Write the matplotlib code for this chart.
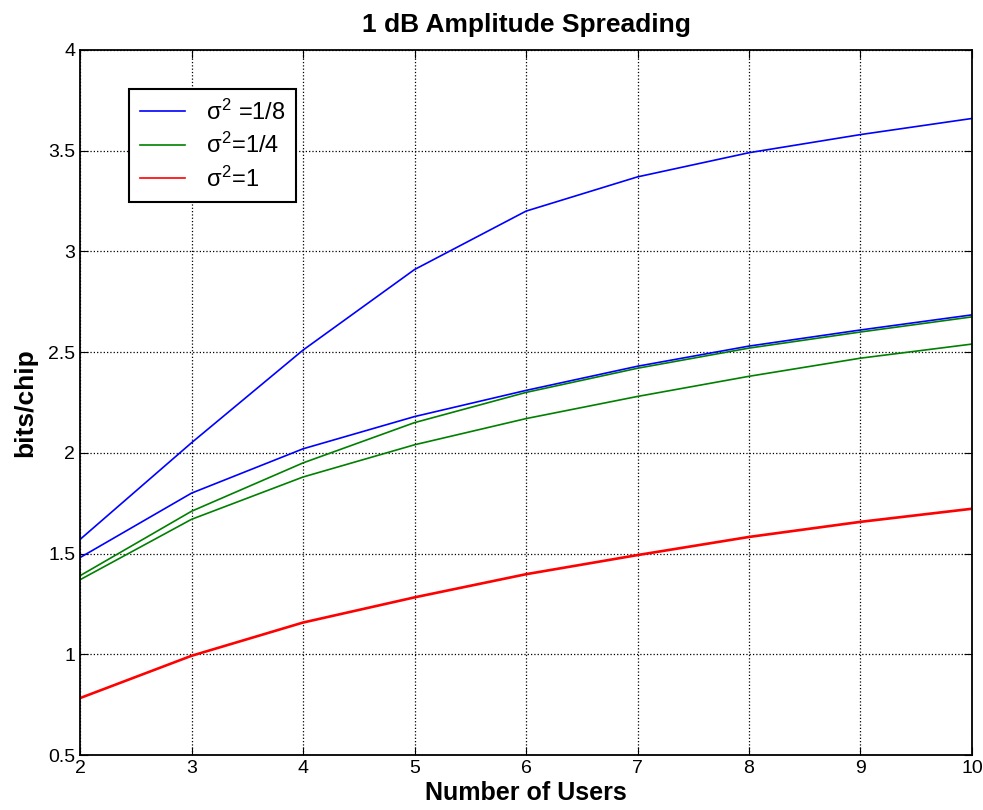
import numpy as np
import matplotlib
matplotlib.use('Agg')
import matplotlib.pyplot as plt

plt.rcParams['font.family'] = ['Liberation Sans', 'DejaVu Sans']
plt.rcParams['mathtext.fontset'] = 'custom'
plt.rcParams['mathtext.rm'] = 'Liberation Sans'
plt.rcParams['mathtext.it'] = 'Liberation Sans'

users = [2, 3, 4, 5, 6, 7, 8, 9, 10]

blue_hi = [1.57, 2.05, 2.51, 2.91, 3.20, 3.37, 3.49, 3.58, 3.66]
blue_lo = [1.48, 1.80, 2.02, 2.18, 2.31, 2.43, 2.53, 2.61, 2.685]
green_hi = [1.39, 1.71, 1.95, 2.15, 2.30, 2.42, 2.52, 2.60, 2.675]
green_lo = [1.37, 1.67, 1.88, 2.04, 2.17, 2.28, 2.38, 2.47, 2.54]
red_hi = [0.785, 0.995, 1.16, 1.285, 1.40, 1.495, 1.585, 1.66, 1.725]
red_lo = [0.78, 0.99, 1.155, 1.28, 1.395, 1.49, 1.58, 1.655, 1.72]

labels = ['$\\sigma^{2}$ =1/8', '$\\sigma^{2}$=1/4', '$\\sigma^{2}$=1']

fig = plt.figure(figsize=(9.83, 8.10), dpi=100)
ax = fig.add_axes([0.0814, 0.0679, 0.9074, 0.8704])

ax.plot(users, blue_hi, color='#0000ff', lw=1.2, label=labels[0])
ax.plot(users, green_hi, color='#008000', lw=1.2, label=labels[1])
ax.plot(users, red_hi, color='#ff0000', lw=1.2, label=labels[2])
ax.plot(users, blue_lo, color='#0000ff', lw=1.2)
ax.plot(users, green_lo, color='#008000', lw=1.2)
ax.plot(users, red_lo, color='#ff0000', lw=1.2)

ax.set_xlim(2, 10)
ax.set_ylim(0.5, 4)
ax.set_xticks(users)
ax.set_yticks([0.5, 1, 1.5, 2, 2.5, 3, 3.5, 4])
ax.set_yticklabels(['0.5', '1', '1.5', '2', '2.5', '3', '3.5', '4'])
ax.grid(True, color='black', linestyle=':', linewidth=0.9)
ax.tick_params(direction='in', top=True, right=True, labelsize=14, length=6)
for s in ax.spines.values():
	s.set_linewidth(1.3)

ax.set_title('1 dB Amplitude Spreading', fontsize=19, fontweight='bold', pad=13)
ax.set_xlabel('Number of Users', fontsize=18, fontweight='bold', labelpad=3)
ax.set_ylabel('bits/chip', fontsize=19, fontweight='bold', labelpad=8)

leg = ax.legend(loc='upper left', bbox_to_anchor=(0.055, 0.945), fontsize=17,
	fancybox=False, edgecolor='black', framealpha=1, handlelength=1.9,
	borderpad=0.45, labelspacing=0.35, borderaxespad=0, handletextpad=0.9)
leg.get_frame().set_linewidth(1.5)

fig.savefig('out.png', dpi=100)
